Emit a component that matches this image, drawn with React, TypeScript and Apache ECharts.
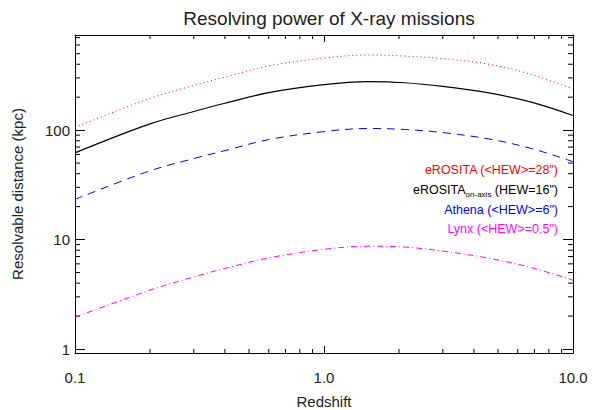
import React, { useEffect, useRef } from "react";
import * as echarts from "echarts";

const redshift = [0.1, 0.2, 0.3, 0.4, 0.6, 1.0, 1.5, 2.1, 3.0, 4.6, 6.8, 10.0];
const erositaAvg = [106, 195, 256, 305, 386, 456, 486, 475, 450, 400, 323, 238];
const erositaOnAxis = [62, 114, 148, 176, 220, 260, 277, 271, 251, 219, 180, 136];
const athena = [23.3, 42.5, 55, 65, 82, 97, 103.5, 101.5, 95, 83, 68, 51.5];
const lynx = [1.95, 3.45, 4.56, 5.45, 6.8, 8.15, 8.7, 8.55, 7.85, 6.75, 5.55, 4.26];

const xMajorLabels = ["0.1", "1.0", "10.0"];
const yMajorLabels = ["1", "10", "100"];
const xMinorTicks = [0.2, 0.3, 0.4, 0.5, 0.6, 0.7, 0.8, 0.9, 2, 3, 4, 5, 6, 7, 8, 9];
const yMinorTicks = [2, 3, 4, 5, 6, 7, 8, 9, 20, 30, 40, 50, 60, 70, 80, 90, 200, 300, 400, 500, 600, 700];

const X_MIN = 0.1;
const X_MAX = 10;
const Y_MIN = 0.92;
const Y_MAX = 740;

const FONT = "'Liberation Sans', Arial, Helvetica, sans-serif";

export default function App() {
  const ref = useRef<HTMLDivElement>(null);

  useEffect(() => {
    if (!ref.current) return;
    const chart = echarts.init(ref.current, undefined, { renderer: "svg" });

    const pair = (ys: number[]) => redshift.map((x, i) => [x, ys[i]]);

    const xLabelFmt = (v: number) => {
      const l = Math.round(Math.log10(v));
      if (Math.abs(Math.log10(v) - l) > 1e-6) return "";
      return xMajorLabels[l + 1] ?? "";
    };
    const yLabelFmt = (v: number) => {
      const l = Math.round(Math.log10(v));
      if (Math.abs(Math.log10(v) - l) > 1e-6) return "";
      return yMajorLabels[l] ?? "";
    };

    const axisCommon = {
      type: "log" as const,
      logBase: 10,
      axisLine: { show: true, lineStyle: { color: "#000", width: 1 } },
      splitLine: { show: false },
    };

    const legendText = (y: number, text: string, color: string) => ({
      type: "text",
      x: 558,
      y,
      style: {
        text,
        fill: color,
        font: `12.5px ${FONT}`,
        textAlign: "right",
        textVerticalAlign: "middle",
      },
    });

    const SMOOTH = 0.35;

    const option: any = {
      animation: false,
      backgroundColor: "#fff",
      textStyle: { fontFamily: FONT },
      title: {
        text: "Resolving power of X-ray missions",
        left: 324,
        top: 4,
        textAlign: "center",
        textStyle: { fontFamily: FONT, fontSize: 19, fontWeight: "normal", color: "#222" },
      },
      grid: { left: 75, right: 26, top: 35, bottom: 57, outerBoundsMode: "none", containLabel: false },
      xAxis: [
        {
          ...axisCommon,
          position: "bottom",
          min: X_MIN,
          max: X_MAX,
          name: "Redshift",
          nameLocation: "middle",
          nameGap: 41,
          nameTextStyle: { fontFamily: FONT, fontSize: 15, color: "#222" },
          axisTick: { show: true, inside: true, length: 7, lineStyle: { color: "#000" } },
          axisLabel: { show: true, margin: 17, fontSize: 15, color: "#222", fontFamily: FONT, formatter: xLabelFmt },
        },
        {
          ...axisCommon,
          position: "top",
          min: X_MIN,
          max: X_MAX,
          axisTick: { show: true, inside: true, length: 7, lineStyle: { color: "#000" } },
          axisLabel: { show: false },
        },
      ],
      yAxis: [
        {
          ...axisCommon,
          position: "left",
          min: Y_MIN,
          max: Y_MAX,
          name: "Resolvable distance (kpc)",
          nameLocation: "middle",
          nameGap: 50,
          nameTextStyle: { fontFamily: FONT, fontSize: 15, color: "#222" },
          axisTick: { show: true, inside: true, length: 10, lineStyle: { color: "#000" } },
          axisLabel: { show: true, margin: 5, fontSize: 15, color: "#222", fontFamily: FONT, formatter: yLabelFmt },
        },
        {
          ...axisCommon,
          position: "right",
          min: Y_MIN,
          max: Y_MAX,
          axisTick: { show: true, inside: true, length: 10, lineStyle: { color: "#000" } },
          axisLabel: { show: false },
        },
      ],
      graphic: [
        legendText(170, 'eROSITA (<HEW>=28")', "#ff0000"),
        {
          type: "text",
          x: 558,
          y: 190,
          style: {
            text: '{a|eROSITA}{s|on-axis}{a| (HEW=16")}',
            fill: "#000",
            textAlign: "right",
            textVerticalAlign: "middle",
            rich: {
              a: { fontSize: 12.5, fontFamily: FONT, fill: "#000", lineHeight: 16, verticalAlign: "middle" },
              s: { fontSize: 8, fontFamily: FONT, fill: "#000", lineHeight: 16, verticalAlign: "bottom", padding: [6, 0, 0, 0] },
            },
          },
        },
        legendText(210, 'Athena (<HEW>=6")', "#0000ff"),
        legendText(229, 'Lynx (<HEW>=0.5")', "#ff00ff"),
      ],
      series: [
        {
          name: "eROSITA",
          type: "line",
          data: pair(erositaAvg),
          showSymbol: false,
          smooth: SMOOTH,
          lineStyle: { color: "#ff0000", width: 1, type: [1, 3] },
          silent: true,
        },
        {
          name: "eROSITA on-axis",
          type: "line",
          data: pair(erositaOnAxis),
          showSymbol: false,
          smooth: SMOOTH,
          lineStyle: { color: "#000000", width: 1.2, type: "solid" },
          silent: true,
        },
        {
          name: "Athena",
          type: "line",
          data: pair(athena),
          showSymbol: false,
          smooth: SMOOTH,
          lineStyle: { color: "#0000ff", width: 1, type: [8, 6] },
          silent: true,
        },
        {
          name: "Lynx",
          type: "line",
          data: pair(lynx),
          showSymbol: false,
          smooth: SMOOTH,
          lineStyle: { color: "#ff00ff", width: 1, type: [6, 3, 1, 3] },
          silent: true,
        },
        {
          name: "xMinor",
          type: "custom",
          silent: true,
          clip: false,
          data: xMinorTicks.map((v) => [v, 1]),
          encode: { x: 0, y: 1 },
          renderItem: (params: any, api: any) => {
            const cs = params.coordSys;
            const x = api.coord([api.value(0), 1])[0];
            const yb = cs.y + cs.height;
            return {
              type: "group",
              children: [
                { type: "line", shape: { x1: x, y1: yb, x2: x, y2: yb - 4 }, style: { stroke: "#000", lineWidth: 1 } },
                { type: "line", shape: { x1: x, y1: cs.y, x2: x, y2: cs.y + 4 }, style: { stroke: "#000", lineWidth: 1 } },
              ],
            };
          },
        },
        {
          name: "yMinor",
          type: "custom",
          silent: true,
          clip: false,
          data: yMinorTicks.map((v) => [1, v]),
          encode: { x: 0, y: 1 },
          renderItem: (params: any, api: any) => {
            const cs = params.coordSys;
            const y = api.coord([1, api.value(1)])[1];
            const xr = cs.x + cs.width;
            return {
              type: "group",
              children: [
                { type: "line", shape: { x1: cs.x, y1: y, x2: cs.x + 5, y2: y }, style: { stroke: "#000", lineWidth: 1 } },
                { type: "line", shape: { x1: xr, y1: y, x2: xr - 5, y2: y }, style: { stroke: "#000", lineWidth: 1 } },
              ],
            };
          },
        },
      ],
    };

    chart.setOption(option);
    return () => chart.dispose();
  }, []);

  return (
    <div
      ref={ref}
      style={{ position: "fixed", left: 0, top: 0, width: 599, height: 410, background: "#fff" }}
    />
  );
}
